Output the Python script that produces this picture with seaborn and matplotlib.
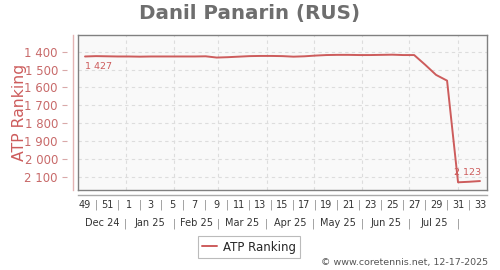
import numpy as np
import pandas as pd
import matplotlib
matplotlib.use("Agg")
import matplotlib.pyplot as plt
import seaborn as sns

# ---------------- data ----------------
weeks = [49, 50, 51, 52] + list(range(1, 34))
ranking = [1427, 1425, 1426, 1427, 1427, 1428, 1427, 1427, 1427, 1427,
           1427, 1426, 1433, 1431, 1428, 1425, 1424, 1424, 1425, 1428,
           1426, 1422, 1419, 1418, 1418, 1419, 1419, 1418, 1417, 1419,
           1419, 1473, 1530, 1562, 2130, 2127, 2123]
first_monday = "2024-12-02"
month_starts = ["2025-01-01", "2025-02-01", "2025-03-01", "2025-04-01",
                "2025-05-01", "2025-06-01", "2025-07-01", "2025-08-01"]
month_labels = ["Dec 24", "Jan 25", "Feb 25", "Mar 25", "Apr 25",
                "May 25", "Jun 25", "Jul 25"]
y_ticks = [1400, 1500, 1600, 1700, 1800, 1900, 2000, 2100]
title = "Danil Panarin (RUS)"
series_name = "ATP Ranking"
footer = "\u00a9 www.coretennis.net, 12-17-2025"

# ---------------- styling ----------------
RED = "#cd5c5c"
TICKRED = "#c86a6a"
sns.set_style("white")
plt.rcParams["font.family"] = ["DejaVu Sans"]

fig = plt.figure(figsize=(5, 2.7), dpi=100)
W, H = 500, 270
L, R, T, B = 78, 487, 35, 190
ax = fig.add_axes([L / W, 1 - B / H, (R - L) / W, (B - T) / H])
ax.set_facecolor("#f9f9f9")

idx = np.arange(len(weeks))
df = pd.DataFrame({"idx": idx, series_name: ranking})
sns.lineplot(data=df, x="idx", y=series_name, ax=ax, color=RED, lw=1.4,
             label=series_name)
handles, labels = ax.get_legend_handles_labels()
if ax.get_legend() is not None:
    ax.get_legend().remove()

ax.set_xlim(-0.64, len(weeks) - 1 + 0.64)
ax.set_ylim(2173, 1307)

# month boundaries (in week-index units, week markers at Monday + 4 days)
t0 = pd.Timestamp(first_monday) + pd.Timedelta(days=4)
bounds = [(pd.Timestamp(m) - t0).days / 7 for m in month_starts]
x_left = ax.get_xlim()[0]
mids = [(a + b) / 2 for a, b in zip([x_left] + bounds[:-1], bounds)]

ax.set_xticks(bounds)
ax.set_xticklabels([])
ax.set_yticks(y_ticks)
ax.set_yticklabels([])
ax.tick_params(axis="x", length=2, color="#999999", direction="out")
ax.tick_params(axis="y", length=0)
ax.grid(True, color="#dddddd", linestyle=(0, (3, 3)), lw=0.8)
ax.set_xlabel("")
ax.set_ylabel("")
for s in ax.spines.values():
    s.set_visible(True)
    s.set_color("#808080")
    s.set_linewidth(1.0)

# value annotations
ax.annotate(f"{ranking[0]:,}".replace(",", " "), (idx[0], ranking[0]),
            xytext=(0, -7), textcoords="offset points", ha="left", va="center",
            fontsize=6.8, color=RED)
ax.annotate(f"{ranking[-1]:,}".replace(",", " "), (idx[-1], ranking[-1]),
            xytext=(1, 6), textcoords="offset points", ha="right", va="center",
            fontsize=6.8, color=RED)

# y axis: pink spine + detached ticks with labels
ysp = ax.secondary_yaxis(location=-5 / (R - L))
ysp.set_yticks([])
ysp.spines["left"].set_color("#e3b3b3")
ysp.spines["left"].set_linewidth(1.0)
ysp.set_ylabel(series_name, fontsize=11.3, color=RED, labelpad=33)

ytk = ax.secondary_yaxis(location=-11 / (R - L))
ytk.spines["left"].set_visible(False)
ytk.set_yticks(y_ticks, labels=[f"{v:,}".replace(",", " ") for v in y_ticks])
ytk.tick_params(axis="y", length=3.5, width=0.8, color="#d9a8a8",
                labelcolor=TICKRED, labelsize=8.5, pad=3)

# week row
odd_pos = [i for i, w in enumerate(weeks) if w % 2 == 1]
even_pos = [i for i, w in enumerate(weeks) if w % 2 == 0]
wk = ax.secondary_xaxis(location=-5 / (B - T))
wk.spines["bottom"].set_color("#aaaaaa")
wk.spines["bottom"].set_linewidth(1.0)
wk.set_xticks(odd_pos, labels=[str(weeks[i]) for i in odd_pos])
wk.set_xticks(even_pos, labels=["|"] * len(even_pos), minor=True)
wk.tick_params(axis="x", which="both", length=0, pad=3.5, labelsize=7,
               labelcolor="#333333")
wk.tick_params(axis="x", which="minor", labelcolor="#888888")

# month row
mo = ax.secondary_xaxis(location=-(216 - B) / (B - T))
mo.spines["bottom"].set_visible(False)
mo.set_xticks(mids, labels=month_labels)
mo.set_xticks(bounds, labels=["|"] * len(bounds), minor=True)
mo.tick_params(axis="x", which="both", length=0, pad=1.5, labelsize=7,
               labelcolor="#333333")
mo.tick_params(axis="x", which="minor", labelcolor="#888888")

# title, legend, footer
fig.text(250 / W, 1 - 14 / H, title, ha="center", va="center",
         fontsize=14.3, fontweight="bold", color="#6e6e6e")
leg = fig.legend(handles, labels, loc="center",
                 bbox_to_anchor=(249 / W, 1 - 247 / H), fontsize=8.5,
                 frameon=True, fancybox=False, handlelength=1.3,
                 handletextpad=0.5, borderpad=0.35)
leg.get_frame().set_edgecolor("#aaaaaa")
leg.get_frame().set_linewidth(0.8)
fig.text(488 / W, 1 - 263 / H, footer, ha="right", va="center",
         fontsize=6.8, color="#555555")

fig.savefig("out.png", dpi=100)
